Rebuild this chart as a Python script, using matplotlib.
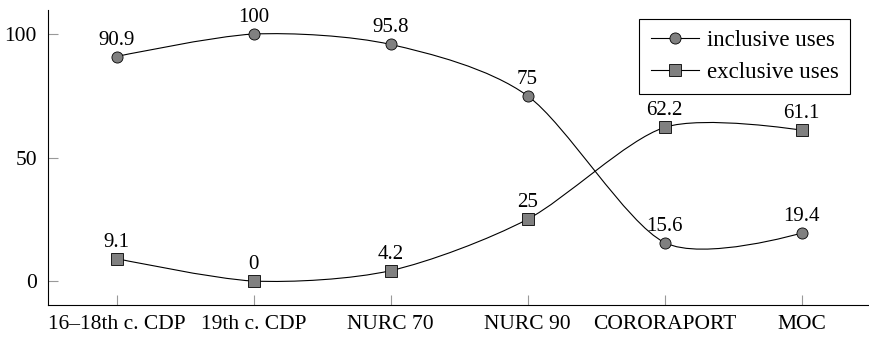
import numpy as np
import matplotlib.pyplot as plt
from matplotlib.path import Path
from matplotlib.patches import PathPatch

plt.rcParams['font.family'] = 'serif'
plt.rcParams['font.serif'] = ['Liberation Serif', 'DejaVu Serif']

categories = ['16\u201318th c. CDP', '19th c. CDP', 'NURC 70', 'NURC 90', 'CORORAPORT', 'MOC']
inclusive = [90.9, 100, 95.8, 75, 15.6, 19.4]
exclusive = [9.1, 0, 4.2, 25, 62.2, 61.1]
labels_inc = ['90.9', '100', '95.8', '75', '15.6', '19.4']
labels_exc = ['9.1', '0', '4.2', '25', '62.2', '61.1']


def smooth_path(xs, ys, f=0.14):
    # pgfplots-like smooth curve through the points (cubic bezier)
    pts = np.column_stack([xs, ys]).astype(float)
    n = len(pts)
    verts = [pts[0]]
    codes = [Path.MOVETO]
    for i in range(n - 1):
        p0 = pts[max(i - 1, 0)]
        p1 = pts[i]
        p2 = pts[i + 1]
        p3 = pts[min(i + 2, n - 1)]
        c1 = p1 + f * (p2 - p0) if i > 0 else p1
        c2 = p2 - f * (p3 - p1) if i + 1 < n - 1 else p2
        verts += [c1, c2, p2]
        codes += [Path.CURVE4] * 3
    return Path(verts, codes)


fig = plt.figure(figsize=(8.7, 3.37), dpi=100)
ax = fig.add_axes([0.0552, 0.095, 0.9448, 0.875])

x = np.arange(len(categories))
for vals in (inclusive, exclusive):
    ax.add_patch(PathPatch(smooth_path(x, vals), fill=False, edgecolor='black', lw=0.8))

ax.plot(x, inclusive, ls='none', marker='o', ms=8, mfc='#808080', mec='black', mew=0.6)
ax.plot(x, exclusive, ls='none', marker='s', ms=8, mfc='#808080', mec='black', mew=0.6)

for xi, v, t in zip(x, inclusive, labels_inc):
    ax.annotate(t, (xi, v), xytext=(0, 5), textcoords='offset points', ha='center', va='bottom', fontsize=15)
for xi, v, t in zip(x, exclusive, labels_exc):
    ax.annotate(t, (xi, v), xytext=(0, 5), textcoords='offset points', ha='center', va='bottom', fontsize=15)

h1, = ax.plot([], [], color='black', lw=0.8, marker='o', ms=8, mfc='#808080', mec='black', mew=0.6)
h2, = ax.plot([], [], color='black', lw=0.8, marker='s', ms=8, mfc='#808080', mec='black', mew=0.6)
leg = ax.legend([h1, h2], ['inclusive uses', 'exclusive uses'], loc='upper right',
                bbox_to_anchor=(0.976, 0.97), fontsize=16.5, fancybox=False, framealpha=1,
                edgecolor='black', handlelength=2.1, handletextpad=0.35, borderpad=0.5,
                labelspacing=0.45, borderaxespad=0)
leg.get_frame().set_linewidth(0.8)

ax.set_xlim(-0.5, 5.5)
ax.set_ylim(-9.7, 109.7)
ax.set_xticks(x)
ax.set_xticklabels(categories, fontsize=15.5)
ax.set_yticks([0, 50, 100])
ax.tick_params(axis='both', direction='in', length=7, color='#999999', labelsize=15.5)
ax.tick_params(axis='x', pad=7)
ax.tick_params(axis='y', pad=8)
ax.spines['top'].set_visible(False)
ax.spines['right'].set_visible(False)
ax.spines['left'].set_linewidth(0.8)
ax.spines['bottom'].set_linewidth(0.8)

fig.savefig('out.png', dpi=100)
